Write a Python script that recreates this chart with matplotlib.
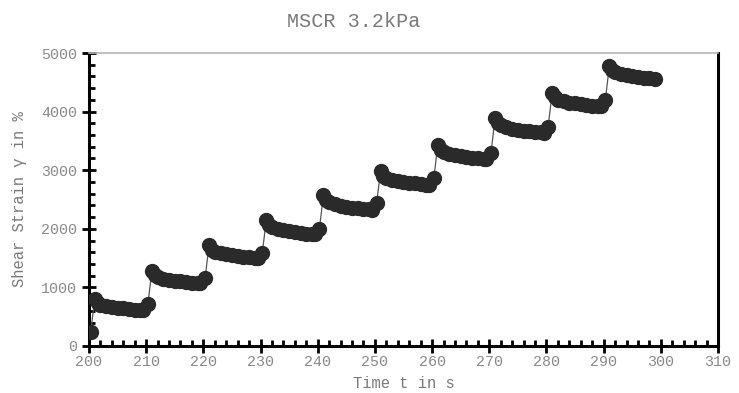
import numpy as np
import matplotlib
matplotlib.use("Agg")
import matplotlib.pyplot as plt
from matplotlib.ticker import MultipleLocator

plt.rcParams['font.family'] = ['Liberation Mono', 'DejaVu Sans Mono']

# time offsets inside one 10 s cycle (creep start, then peak and recovery)
cycle_offsets = [0.3, 1.0, 1.5, 2, 3, 4, 5, 6, 7, 8, 9, 9.5]
cycle_starts = [200, 210, 220, 230, 240, 250, 260, 270, 280, 290]

# strain (%) read per cycle
strain_c0 = [233, 800, 734, 706, 682, 665, 651, 640, 631, 621, 616, 612]
strain_c1 = [715, 1280, 1206, 1175, 1148, 1129, 1114, 1101, 1091, 1080, 1074, 1070]
strain_c2 = [1155, 1723, 1645, 1612, 1583, 1562, 1547, 1533, 1522, 1511, 1504, 1500]
strain_c3 = [1585, 2145, 2061, 2025, 1994, 1972, 1955, 1941, 1929, 1917, 1910, 1905]
strain_c4 = [2005, 2577, 2489, 2451, 2418, 2396, 2378, 2363, 2350, 2338, 2330, 2325]
strain_c5 = [2435, 2992, 2907, 2871, 2840, 2818, 2801, 2786, 2774, 2762, 2755, 2750]
strain_c6 = [2861, 3430, 3346, 3310, 3279, 3257, 3240, 3226, 3214, 3202, 3195, 3190]
strain_c7 = [3290, 3886, 3800, 3763, 3731, 3709, 3692, 3677, 3665, 3652, 3645, 3640]
strain_c8 = [3745, 4323, 4241, 4206, 4176, 4155, 4139, 4125, 4113, 4102, 4095, 4090]
strain_c9 = [4198, 4783, 4703, 4669, 4640, 4619, 4603, 4589, 4578, 4566, 4558]

cycles = [strain_c0, strain_c1, strain_c2, strain_c3, strain_c4,
          strain_c5, strain_c6, strain_c7, strain_c8, strain_c9]

x_ticks = [200, 210, 220, 230, 240, 250, 260, 270, 280, 290, 300, 310]
y_ticks = [0, 1000, 2000, 3000, 4000, 5000]

t = []
y = []
for start, vals in zip(cycle_starts, cycles):
    for off, v in zip(cycle_offsets, vals):
        t.append(start + off)
        y.append(v)

fig = plt.figure(figsize=(7.39, 3.93), dpi=100)
ax = fig.add_axes([0.1204, 0.1196, 0.8512, 0.7455])

ax.plot(t, y, color='#555555', lw=0.9, marker='o', ms=10,
        mfc='#2a2a2a', mec='#2a2a2a', zorder=3)

ax.set_xlim(200, 310)
ax.set_ylim(0, 5000)
ax.set_xticks(x_ticks)
ax.set_yticks(y_ticks)
ax.xaxis.set_minor_locator(MultipleLocator(2))
ax.yaxis.set_minor_locator(MultipleLocator(200))

lab_col = '#8a8a8a'
ax.tick_params(which='major', direction='inout', length=9.5, width=2,
               color='black', labelsize=10.8, labelcolor=lab_col)
ax.tick_params(axis='y', which='major', pad=4)
ax.tick_params(axis='x', which='major', pad=2)
ax.tick_params(which='minor', direction='in', length=4.3, width=2,
               color='black')

for side in ['left', 'bottom', 'right']:
    ax.spines[side].set_linewidth(2.2)
    ax.spines[side].set_color('black')
ax.spines['top'].set_linewidth(1.2)
ax.spines['top'].set_color('#b5b5b5')

ax.set_xlabel('Time t in s', fontsize=11.2, color='#7a7a7a', labelpad=5)
ax.set_ylabel('Shear Strain \u03b3 in %', fontsize=11.2, color='#7a7a7a',
              labelpad=10)

fig.text(0.478, 0.945, 'MSCR 3.2kPa', ha='center', va='center',
         fontsize=14.5, color='#7a7a7a')

fig.savefig('out.png', dpi=100)
